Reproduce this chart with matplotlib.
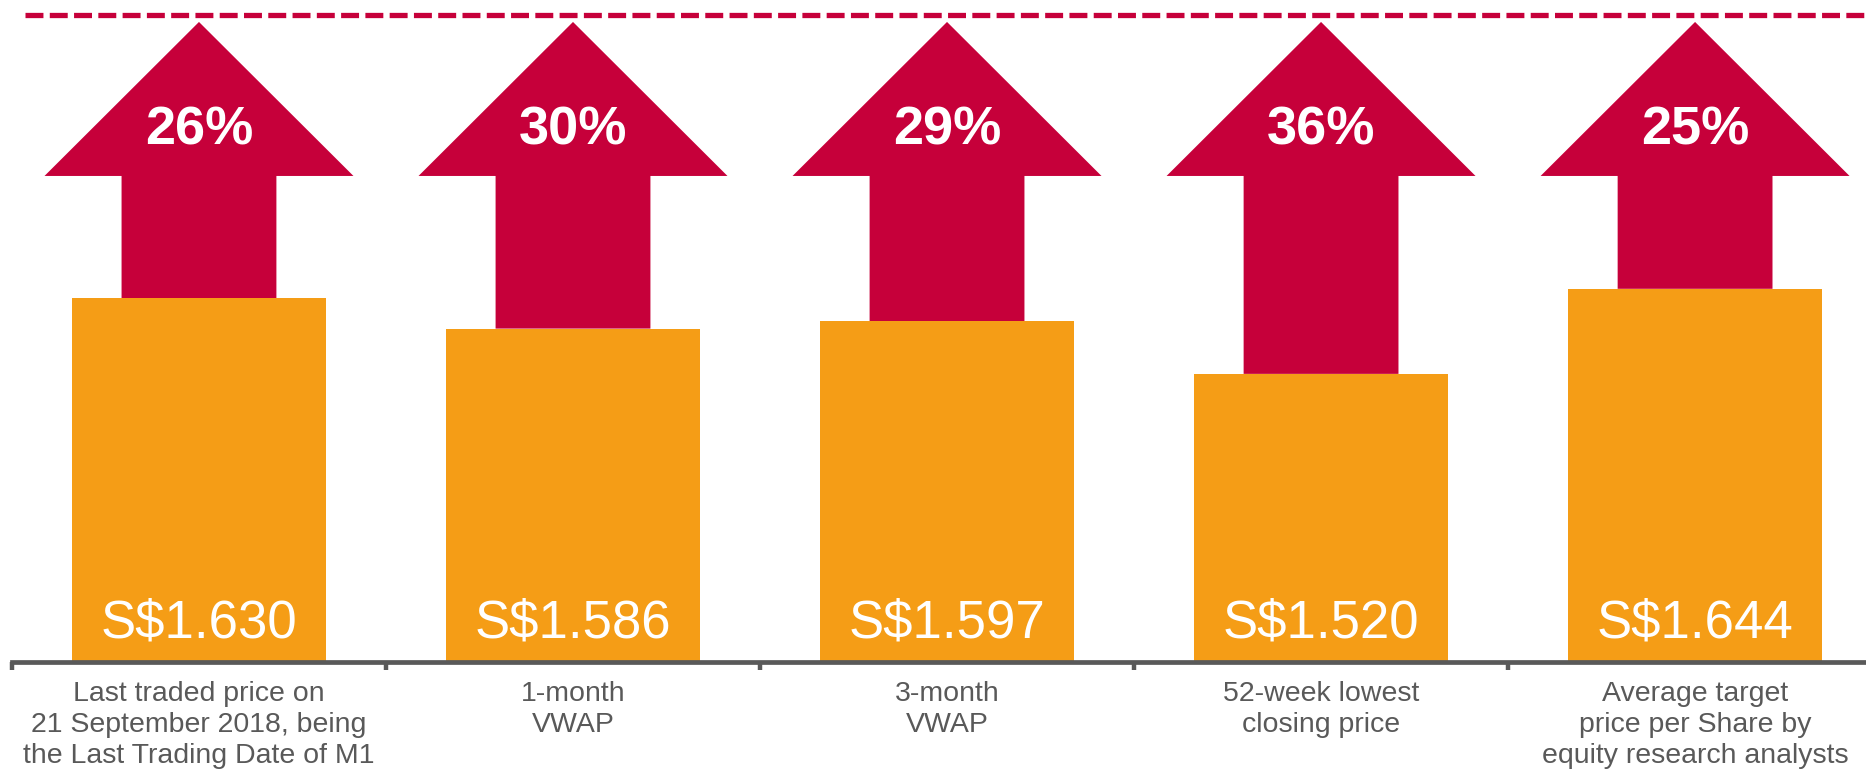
import numpy as np
import matplotlib.pyplot as plt
from matplotlib.patches import Polygon

plt.rcParams['font.family'] = ['Liberation Sans', 'DejaVu Sans']

# Data
categories = ["Last traded price on\n21 September 2018, being\nthe Last Trading Date of M1",
              "1-month\nVWAP",
              "3-month\nVWAP",
              "52-week lowest\nclosing price",
              "Average target\nprice per Share by\nequity research analysts"]
prices = [1.630, 1.586, 1.597, 1.520, 1.644]
price_labels = ["S$1.630", "S$1.586", "S$1.597", "S$1.520", "S$1.644"]
premiums = ["26%", "30%", "29%", "36%", "25%"]
offer_line = 2.043   # dashed reference level
base = 1.1           # value at the axis line

orange = "#F59D16"
crimson = "#C6003A"
grey = "#595959"

fig = plt.figure(figsize=(18.66, 7.78), dpi=100)
ax = fig.add_axes([0, 116 / 778, 1, 662 / 778])
ax.set_xlim(-0.532, 4.457)
ax.set_ylim(base, 2.065)

x = np.arange(len(prices))

# arrows behind the bars
tip_gap = 0.010
head_len = 0.2245
for xi, p, pct in zip(x, prices, premiums):
    tip = offer_line - tip_gap
    hb = tip - head_len
    pts = [(xi - 0.207, p), (xi - 0.207, hb), (xi - 0.413, hb), (xi, tip),
           (xi + 0.413, hb), (xi + 0.207, hb), (xi + 0.207, p)]
    ax.add_patch(Polygon(pts, closed=True, facecolor=crimson, edgecolor="none",
                         zorder=1, clip_on=False))
    ax.text(xi, tip - 0.179, pct, ha="center", va="baseline", color="white",
            fontsize=39, fontweight="bold", zorder=4)

ax.bar(x, np.array(prices) - base, bottom=base, width=0.68, color=orange, zorder=2)
for xi, lab in zip(x, price_labels):
    ax.text(xi, base + 0.035, lab, ha="center", va="baseline", color="white",
            fontsize=38, zorder=4)

ax.axhline(offer_line, xmin=25 / 1866, xmax=1, color=crimson, lw=3.8,
           linestyle=(0, (3.4, 1.2)), dash_capstyle="butt", zorder=3)

for s in ["top", "left", "right"]:
    ax.spines[s].set_visible(False)
ax.spines["bottom"].set_color(grey)
ax.spines["bottom"].set_linewidth(3.4)
ax.spines["bottom"].set_bounds(-0.5, 5)
ax.set_yticks([])

ax.set_xticks(x)
ax.set_xticklabels(categories, fontsize=20.5, color=grey, linespacing=1.24)
ax.set_xticks(np.arange(-0.5, 4.0, 1.0), minor=True)
ax.tick_params(axis="x", which="major", length=0, pad=14)
ax.tick_params(axis="x", which="minor", length=6, width=3.2, color=grey, direction="out")

fig.savefig("out.png", dpi=100)
